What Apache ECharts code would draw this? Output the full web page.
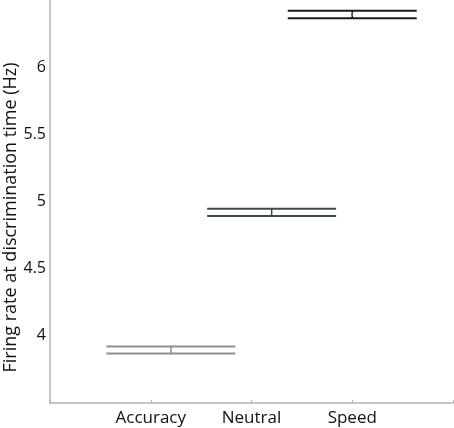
<!DOCTYPE html>
<html>
<head>
<meta charset="utf-8">
<script src="https://cdn.jsdelivr.net/npm/echarts@6/dist/echarts.min.js"></script>
<style>html,body{margin:0;padding:0;background:#fff}#c{width:454px;height:428px}</style>
</head>
<body>
<div id="c"></div>
<script>
var categories = ['Accuracy', 'Neutral', 'Speed'];
var tickPositions = [1, 2, 3];
var barCenters = [1.2, 2.2, 3.0];
var upperValues = [3.921, 4.946, 6.420];
var lowerValues = [3.869, 4.892, 6.364];
var halfWidth = 0.64;
var colors = ['#8e8e8e', '#3f4a4a', '#1a1a1a'];
var yTicks = [4, 4.5, 5, 5.5, 6];

var data = categories.map(function (c, i) {
  return [barCenters[i], lowerValues[i], upperValues[i], i];
});

var chart = echarts.init(document.getElementById('c'), null, {renderer: 'canvas'});
chart.setOption({
  animation: false,
  grid: {left: 50, right: 1, top: 0, bottom: 25, containLabel: false, outerBoundsMode: 'none'},
  xAxis: {
    type: 'value', min: 0, max: 4, interval: 1,
    splitLine: {show: false},
    axisLine: {lineStyle: {color: '#b4b4b4', width: 1.5}},
    axisTick: {show: true, inside: true, length: 3, lineStyle: {color: '#b4b4b4'}},
    axisLabel: {
      fontFamily: 'Open Sans', fontSize: 17, color: '#111', margin: 7,
      formatter: function (v) { var k = tickPositions.indexOf(v); return k >= 0 ? categories[k] : ''; }
    }
  },
  yAxis: {
    type: 'value', min: 3.5, max: 6.5, interval: 0.5,
    splitLine: {show: false},
    axisLine: {show: true, lineStyle: {color: '#b4b4b4', width: 1.5}},
    axisTick: {show: false},
    axisLabel: {
      fontFamily: 'Open Sans', fontSize: 16, color: '#111', margin: 4,
      formatter: function (v) { return yTicks.indexOf(v) >= 0 ? String(v) : ''; }
    },
    name: 'Firing rate at discrimination time (Hz)',
    nameLocation: 'middle', nameGap: 30, nameMoveOverlap: false,
    nameTextStyle: {fontFamily: 'Open Sans', fontSize: 18, color: '#111', padding: [0, 32, 0, 0]}
  },
  series: [{
    type: 'custom',
    data: data,
    renderItem: function (params, api) {
      var cx = api.value(0), lo = api.value(1), hi = api.value(2), idx = api.value(3);
      var pL = api.coord([cx - halfWidth, lo]);
      var pR = api.coord([cx + halfWidth, lo]);
      var qL = api.coord([cx - halfWidth, hi]);
      var qR = api.coord([cx + halfWidth, hi]);
      var cLo = api.coord([cx, lo]);
      var cHi = api.coord([cx, hi]);
      var col = colors[idx];
      var children = [
        {type: 'line', shape: {x1: qL[0], y1: qL[1], x2: qR[0], y2: qR[1]}, style: {stroke: col, lineWidth: 2}},
        {type: 'line', shape: {x1: pL[0], y1: pL[1], x2: pR[0], y2: pR[1]}, style: {stroke: col, lineWidth: 2}},
        {type: 'line', shape: {x1: cHi[0], y1: cHi[1], x2: cLo[0], y2: cLo[1]}, style: {stroke: col, lineWidth: 1.5}}
      ];
      if (idx === 2) {
        var mid = (cHi[1] + cLo[1]) / 2;
        children.push({type: 'line', shape: {x1: cHi[0], y1: mid - 1.5, x2: cHi[0], y2: mid + 1.5}, style: {stroke: '#e0201a', lineWidth: 1.5}});
      }
      return {type: 'group', children: children};
    }
  }]
});
</script>
</body>
</html>
